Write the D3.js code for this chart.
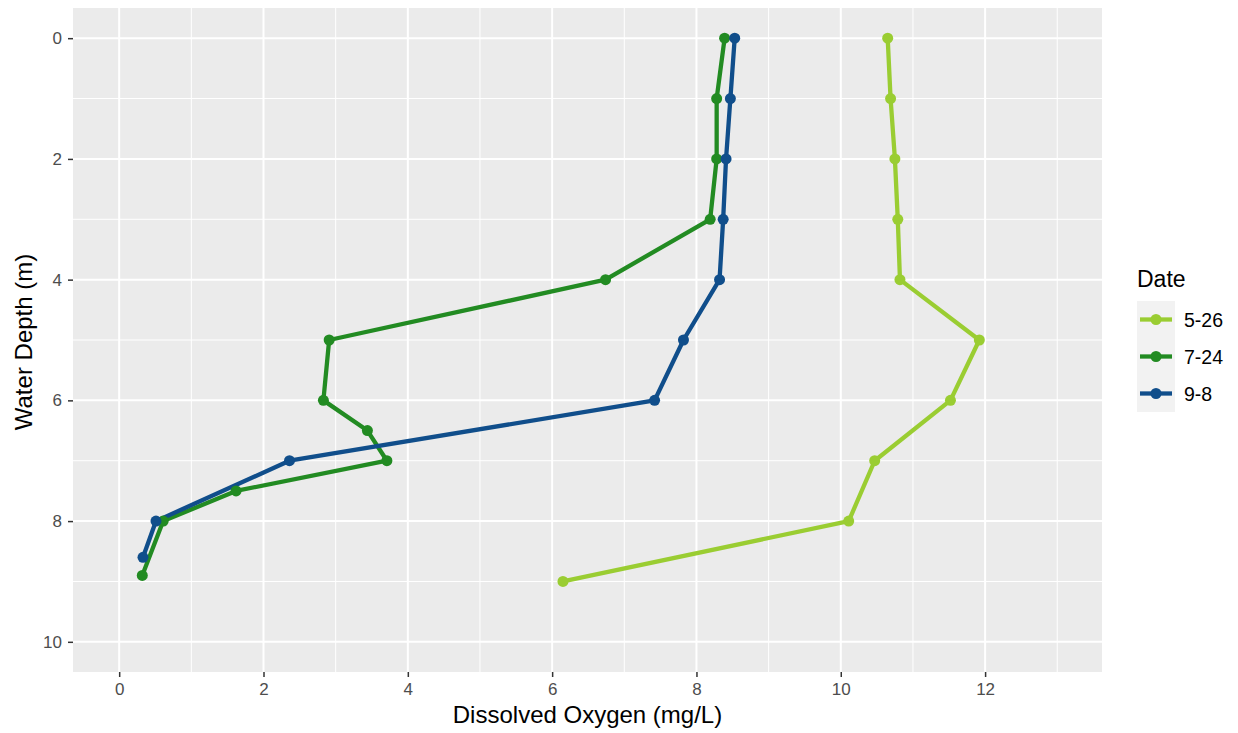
<!DOCTYPE html>
<html>
<head>
<meta charset="utf-8">
<script src="https://cdn.jsdelivr.net/npm/d3@7"></script>
<style>
body { margin: 0; background: #fff; }
svg text { font-family: "Liberation Sans", Arial, sans-serif; }
</style>
</head>
<body>
<div id="figure"></div>
<script>
// dates in legend order
var dates = ["5-26", "7-24", "9-8"];
var colors = ["#9ACD32", "#228B22", "#104E8B"];

// depth (m) and dissolved oxygen (mg/L) per date
var depth_0526 = [0, 1, 2, 3, 4, 5, 6, 7, 8, 9];
var oxy_0526 = [10.65, 10.69, 10.75, 10.79, 10.82, 11.92, 11.52, 10.47, 10.11, 6.15];

var depth_0724 = [0, 1, 2, 3, 4, 5, 6, 6.5, 7, 7.5, 8, 8.9];
var oxy_0724 = [8.39, 8.28, 8.28, 8.19, 6.74, 2.91, 2.83, 3.44, 3.71, 1.62, 0.61, 0.32];

var depth_0908 = [0, 1, 2, 3, 4, 5, 6, 7, 8, 8.6];
var oxy_0908 = [8.53, 8.47, 8.41, 8.37, 8.32, 7.82, 7.42, 2.36, 0.51, 0.33];

var xTicks = [0, 2, 4, 6, 8, 10, 12];
var yTicks = [0, 2, 4, 6, 8, 10];
var xMinor = [1, 3, 5, 7, 9, 11, 13];
var yMinor = [1, 3, 5, 7, 9];

var series = [
	{date: dates[0], color: colors[0], depth: depth_0526, oxy: oxy_0526},
	{date: dates[1], color: colors[1], depth: depth_0724, oxy: oxy_0724},
	{date: dates[2], color: colors[2], depth: depth_0908, oxy: oxy_0908}
];

var w = 1238, h = 733;
var panel = {left: 73, right: 1102, top: 8, bottom: 672};

var x = d3.scaleLinear().domain([-0.64, 13.62]).range([panel.left, panel.right]);
var y = d3.scaleLinear().domain([-0.5, 10.5]).range([panel.top, panel.bottom]);

var svg = d3.select("#figure").append("svg")
	.attr("width", w).attr("height", h);

svg.append("rect")
	.attr("x", panel.left).attr("y", panel.top)
	.attr("width", panel.right - panel.left)
	.attr("height", panel.bottom - panel.top)
	.attr("fill", "#EBEBEB");

// minor grid
svg.selectAll("line.xminor").data(xMinor)
	.enter().append("line")
	.attr("x1", function(d) { return x(d); }).attr("x2", function(d) { return x(d); })
	.attr("y1", panel.top).attr("y2", panel.bottom)
	.attr("stroke", "#fff").attr("stroke-width", 1);
svg.selectAll("line.yminor").data(yMinor)
	.enter().append("line")
	.attr("y1", function(d) { return y(d); }).attr("y2", function(d) { return y(d); })
	.attr("x1", panel.left).attr("x2", panel.right)
	.attr("stroke", "#fff").attr("stroke-width", 1);

// major grid
svg.selectAll("line.xmajor").data(xTicks)
	.enter().append("line")
	.attr("x1", function(d) { return x(d); }).attr("x2", function(d) { return x(d); })
	.attr("y1", panel.top).attr("y2", panel.bottom)
	.attr("stroke", "#fff").attr("stroke-width", 2);
svg.selectAll("line.ymajor").data(yTicks)
	.enter().append("line")
	.attr("y1", function(d) { return y(d); }).attr("y2", function(d) { return y(d); })
	.attr("x1", panel.left).attr("x2", panel.right)
	.attr("stroke", "#fff").attr("stroke-width", 2);

// axes
var xAxis = svg.append("g")
	.attr("transform", "translate(0," + panel.bottom + ")")
	.call(d3.axisBottom(x).tickValues(xTicks).tickSize(5).tickPadding(6).tickFormat(d3.format("d")));
var yAxis = svg.append("g")
	.attr("transform", "translate(" + panel.left + ",0)")
	.call(d3.axisLeft(y).tickValues(yTicks).tickSize(5).tickPadding(6).tickFormat(d3.format("d")));

[xAxis, yAxis].forEach(function(a) {
	a.select(".domain").remove();
	a.selectAll(".tick line").attr("stroke", "#333").attr("stroke-width", 1.5);
	a.selectAll(".tick text").attr("fill", "#4D4D4D").attr("font-size", "17px")
		.attr("font-family", "Liberation Sans, Arial, sans-serif");
});

svg.append("text")
	.text("Dissolved Oxygen (mg/L)")
	.attr("x", (panel.left + panel.right) / 2)
	.attr("y", 723)
	.attr("text-anchor", "middle")
	.attr("font-size", "24px")
	.attr("fill", "#000");

svg.append("text")
	.text("Water Depth (m)")
	.attr("transform", "translate(32," + ((panel.top + panel.bottom) / 2 + 2) + ") rotate(-90)")
	.attr("text-anchor", "middle")
	.attr("font-size", "24px")
	.attr("fill", "#000");

// lines, then points
var line = d3.line()
	.x(function(d) { return x(d[0]); })
	.y(function(d) { return y(d[1]); });

series.forEach(function(s) {
	var pts = s.oxy.map(function(v, i) { return [v, s.depth[i]]; });
	svg.append("path")
		.datum(pts)
		.attr("d", line)
		.attr("fill", "none")
		.attr("stroke", s.color)
		.attr("stroke-width", 4.3)
		.attr("stroke-linejoin", "round");
});

series.forEach(function(s) {
	var pts = s.oxy.map(function(v, i) { return [v, s.depth[i]]; });
	svg.selectAll("circle.p" + s.date)
		.data(pts)
		.enter()
		.append("circle")
		.attr("cx", function(d) { return x(d[0]); })
		.attr("cy", function(d) { return y(d[1]); })
		.attr("r", 5.5)
		.attr("fill", s.color);
});

// legend
var legend = svg.append("g").attr("transform", "translate(1137,0)");
legend.append("text")
	.text("Date")
	.attr("x", 0).attr("y", 287)
	.attr("font-size", "23px")
	.attr("fill", "#000");

var keyH = 37;
legend.selectAll("g.key")
	.data(series)
	.enter()
	.append("g")
	.attr("class", "key")
	.attr("transform", function(d, i) { return "translate(0," + (301 + i * keyH) + ")"; })
	.each(function(d) {
		var g = d3.select(this);
		g.append("rect").attr("width", 38).attr("height", keyH).attr("fill", "#F2F2F2");
		g.append("line")
			.attr("x1", 3).attr("x2", 35)
			.attr("y1", keyH / 2).attr("y2", keyH / 2)
			.attr("stroke", d.color).attr("stroke-width", 4.3);
		g.append("circle").attr("cx", 19).attr("cy", keyH / 2).attr("r", 5.5).attr("fill", d.color);
		g.append("text")
			.text(d.date)
			.attr("x", 47).attr("y", keyH / 2 + 7)
			.attr("font-size", "19.5px")
			.attr("fill", "#000");
	});
</script>
</body>
</html>
